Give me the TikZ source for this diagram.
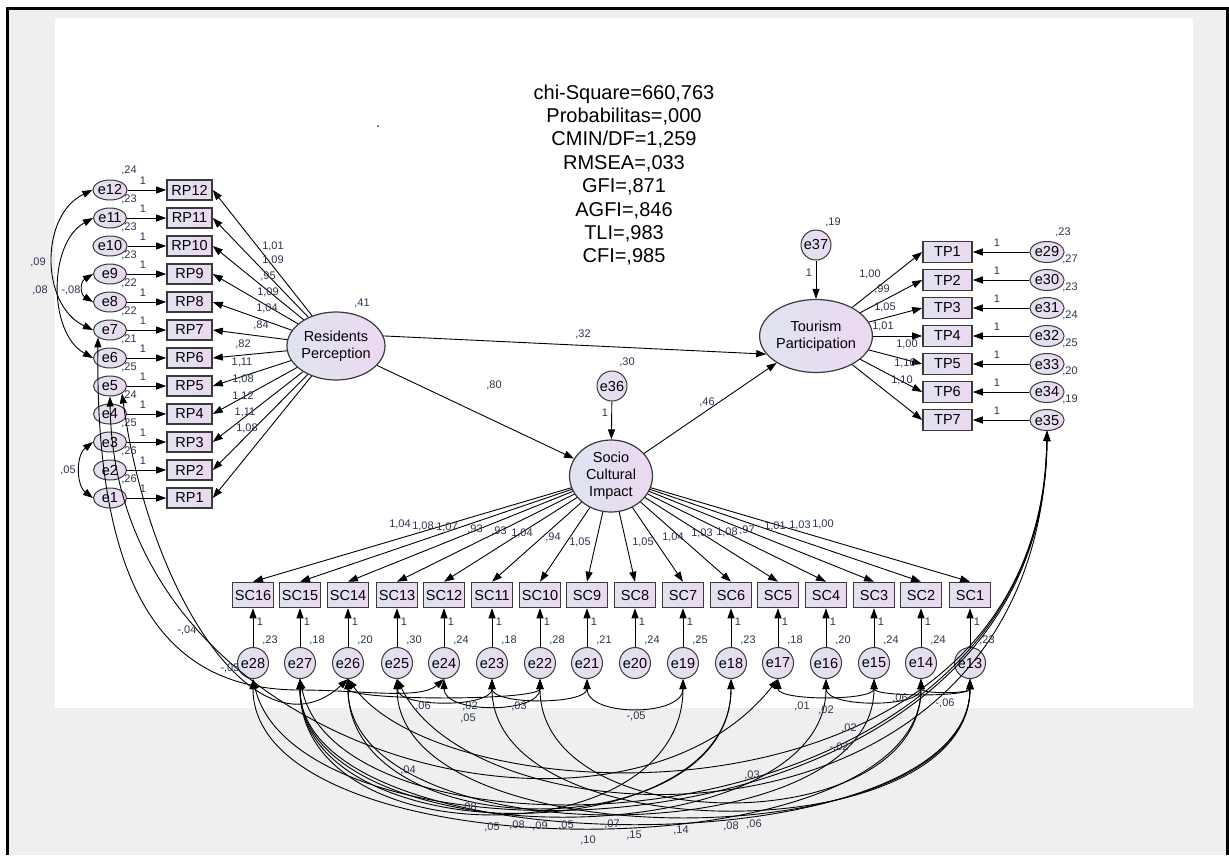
\documentclass[tikz,border=0pt]{standalone}
\usepackage{fontspec}
\setmainfont{Liberation Sans}
\usetikzlibrary{arrows.meta, shapes.geometric}
\definecolor{bgcol}{HTML}{EFEFEF}
\definecolor{lcol}{HTML}{3A3A3A}
\definecolor{fcolA}{HTML}{DFE4EF}
\definecolor{fcolB}{HTML}{ECD8F2}
\definecolor{ncol}{HTML}{2A3550}
\definecolor{dotcol}{HTML}{2020C0}

\tikzset{
  obsbox/.style={draw=lcol, line width=1.6pt, left color=fcolA, right color=fcolB, minimum width=45pt, minimum height=20pt, inner sep=0pt, font=\fontsize{14.5}{15}\selectfont},
  scbox/.style={obsbox, minimum width=41pt, minimum height=25pt},
  tpbox/.style={obsbox, minimum width=49pt, minimum height=21pt},
  errell/.style={ellipse, draw=lcol, line width=1pt, left color=fcolA, right color=fcolB, minimum width=33pt, minimum height=20pt, inner sep=0pt, font=\fontsize{14.5}{15}\selectfont},
  errcirc/.style={circle, draw=lcol, line width=1pt, left color=fcolA, right color=fcolB, minimum size=31pt, inner sep=0pt, font=\fontsize{14.5}{15}\selectfont},
  latent/.style={ellipse, draw=lcol, line width=1.2pt, left color=fcolA, right color=fcolB, inner sep=0pt, align=center, font=\fontsize{14.5}{17}\selectfont},
  num/.style={text=ncol, inner sep=0pt, font=\fontsize{11}{11}\selectfont},
  load/.style={->, line width=0.9pt},
  cov/.style={<->, line width=0.9pt},
}

\begin{document}
\begin{tikzpicture}[x=1pt, y=-1pt, >={Triangle[length=10pt,width=7pt]}]
\useasboundingbox (0,0) rectangle (1229,855);
% page
\fill[bgcol] (7,8) rectangle (1227,855);
\fill[white] (55,18) rectangle (1193,708);
\draw[line width=3pt] (7,855) -- (7,8) -- (1227,8) -- (1227,855);
\fill[dotcol] (378,126) circle (1pt);

% fit indices
\node[align=center, font=\fontsize{20}{23.4}\selectfont] (fit) at (624,175) {chi-Square=660,763\\Probabilitas=,000\\CMIN/DF=1,259\\RMSEA=,033\\GFI=,871\\AGFI=,846\\TLI=,983\\CFI=,985};

% latent variables
\node[latent, minimum width=87pt, minimum height=68pt] (resp) at (336,346) {Residents\\Perception};
\node[latent, minimum width=83pt, minimum height=72pt] (sci) at (611,476) {Socio\\Cultural\\Impact};
\node[latent, minimum width=98pt, minimum height=73pt] (tpart) at (816,336) {Tourism\\Participation};
\node[errcirc, minimum size=30pt] (e36) at (612,386) {e36};
\node[errcirc, minimum size=30pt] (e37) at (816,245) {e37};

% residents perception indicators
\node[obsbox] (rp12) at (189.5,190) {RP12};
\node[obsbox] (rp11) at (189.5,218) {RP11};
\node[obsbox] (rp10) at (189.5,246) {RP10};
\node[obsbox] (rp9) at (189.5,274) {RP9};
\node[obsbox] (rp8) at (189.5,302) {RP8};
\node[obsbox] (rp7) at (189.5,330) {RP7};
\node[obsbox] (rp6) at (189.5,358) {RP6};
\node[obsbox] (rp5) at (189.5,386) {RP5};
\node[obsbox] (rp4) at (189.5,414) {RP4};
\node[obsbox] (rp3) at (189.5,442) {RP3};
\node[obsbox] (rp2) at (189.5,470) {RP2};
\node[obsbox] (rp1) at (189.5,498) {RP1};
\node[errell] (e12) at (110,190) {e12};
\node[errell] (e11) at (110,218) {e11};
\node[errell] (e10) at (110,246) {e10};
\node[errell] (e9) at (110,274) {e9};
\node[errell] (e8) at (110,302) {e8};
\node[errell] (e7) at (110,330) {e7};
\node[errell] (e6) at (110,358) {e6};
\node[errell] (e5) at (110,386) {e5};
\node[errell] (e4) at (110,414) {e4};
\node[errell] (e3) at (110,442) {e3};
\node[errell] (e2) at (110,470) {e2};
\node[errell] (e1) at (110,498) {e1};

% tourism participation indicators
\node[tpbox] (tp1) at (947.5,252) {TP1};
\node[tpbox] (tp2) at (947.5,280) {TP2};
\node[tpbox] (tp3) at (947.5,308) {TP3};
\node[tpbox] (tp4) at (947.5,336) {TP4};
\node[tpbox] (tp5) at (947.5,364) {TP5};
\node[tpbox] (tp6) at (947.5,392) {TP6};
\node[tpbox] (tp7) at (947.5,420) {TP7};
\node[errell, minimum width=34pt, minimum height=21pt] (e29) at (1047,252) {e29};
\node[errell, minimum width=34pt, minimum height=21pt] (e30) at (1047,280) {e30};
\node[errell, minimum width=34pt, minimum height=21pt] (e31) at (1047,308) {e31};
\node[errell, minimum width=34pt, minimum height=21pt] (e32) at (1047,336) {e32};
\node[errell, minimum width=34pt, minimum height=21pt] (e33) at (1047,364) {e33};
\node[errell, minimum width=34pt, minimum height=21pt] (e34) at (1047,392) {e34};
\node[errell, minimum width=34pt, minimum height=21pt] (e35) at (1047,420) {e35};

% socio cultural impact indicators
\node[scbox] (sc16) at (253,595) {SC16};
\node[scbox] (sc15) at (300,595) {SC15};
\node[scbox] (sc14) at (348,595) {SC14};
\node[scbox] (sc13) at (397,595) {SC13};
\node[scbox] (sc12) at (444,595) {SC12};
\node[scbox] (sc11) at (492,595) {SC11};
\node[scbox] (sc10) at (540,595) {SC10};
\node[scbox] (sc9) at (587,595) {SC9};
\node[scbox] (sc8) at (635,595) {SC8};
\node[scbox] (sc7) at (683,595) {SC7};
\node[scbox] (sc6) at (731,595) {SC6};
\node[scbox] (sc5) at (778,595) {SC5};
\node[scbox] (sc4) at (826,595) {SC4};
\node[scbox] (sc3) at (874,595) {SC3};
\node[scbox] (sc2) at (921,595) {SC2};
\node[scbox] (sc1) at (970,595) {SC1};
\node[errcirc] (e28) at (253,663) {e28};
\node[errcirc] (e27) at (300,663) {e27};
\node[errcirc] (e26) at (348,663) {e26};
\node[errcirc] (e25) at (397,663) {e25};
\node[errcirc] (e24) at (444,663) {e24};
\node[errcirc] (e23) at (492,663) {e23};
\node[errcirc] (e22) at (540,663) {e22};
\node[errcirc] (e21) at (587,663) {e21};
\node[errcirc] (e20) at (635,663) {e20};
\node[errcirc] (e19) at (683,663) {e19};
\node[errcirc] (e18) at (731,663) {e18};
\node[errcirc] (e17) at (778,663) {e17};
\node[errcirc] (e16) at (826,663) {e16};
\node[errcirc] (e15) at (874,663) {e15};
\node[errcirc] (e14) at (921,663) {e14};
\node[errcirc] (e13) at (970,663) {e13};

% structural paths
\draw[load] (resp.12) -- (tpart.200);
\draw[load] (resp) -- (sci);
\draw[load] (sci) -- (tpart);
\draw[load] (e36) -- (sci);
\draw[load] (e37) -- (tpart);

% loadings RP
\draw[load] (resp) -- (rp12.east);
\draw[load] (resp) -- (rp11.east);
\draw[load] (resp) -- (rp10.east);
\draw[load] (resp) -- (rp9.east);
\draw[load] (resp) -- (rp8.east);
\draw[load] (resp) -- (rp7.east);
\draw[load] (resp) -- (rp6.east);
\draw[load] (resp) -- (rp5.east);
\draw[load] (resp) -- (rp4.east);
\draw[load] (resp) -- (rp3.east);
\draw[load] (resp) -- (rp2.east);
\draw[load] (resp) -- (rp1.east);
\draw[load] (e12) -- (rp12);
\draw[load] (e11) -- (rp11);
\draw[load] (e10) -- (rp10);
\draw[load] (e9) -- (rp9);
\draw[load] (e8) -- (rp8);
\draw[load] (e7) -- (rp7);
\draw[load] (e6) -- (rp6);
\draw[load] (e5) -- (rp5);
\draw[load] (e4) -- (rp4);
\draw[load] (e3) -- (rp3);
\draw[load] (e2) -- (rp2);
\draw[load] (e1) -- (rp1);

% loadings TP
\draw[load] (tpart) -- (tp1.west);
\draw[load] (tpart) -- (tp2.west);
\draw[load] (tpart) -- (tp3.west);
\draw[load] (tpart) -- (tp4.west);
\draw[load] (tpart) -- (tp5.west);
\draw[load] (tpart) -- (tp6.west);
\draw[load] (tpart) -- (tp7.west);
\draw[load] (e29) -- (tp1);
\draw[load] (e30) -- (tp2);
\draw[load] (e31) -- (tp3);
\draw[load] (e32) -- (tp4);
\draw[load] (e33) -- (tp5);
\draw[load] (e34) -- (tp6);
\draw[load] (e35) -- (tp7);

% loadings SC
\draw[load] (sci) -- (sc16.north);
\draw[load] (sci) -- (sc15.north);
\draw[load] (sci) -- (sc14.north);
\draw[load] (sci) -- (sc13.north);
\draw[load] (sci) -- (sc12.north);
\draw[load] (sci) -- (sc11.north);
\draw[load] (sci) -- (sc10.north);
\draw[load] (sci) -- (sc9.north);
\draw[load] (sci) -- (sc8.north);
\draw[load] (sci) -- (sc7.north);
\draw[load] (sci) -- (sc6.north);
\draw[load] (sci) -- (sc5.north);
\draw[load] (sci) -- (sc4.north);
\draw[load] (sci) -- (sc3.north);
\draw[load] (sci) -- (sc2.north);
\draw[load] (sci) -- (sc1.north);
\draw[load] (e28) -- (sc16);
\draw[load] (e27) -- (sc15);
\draw[load] (e26) -- (sc14);
\draw[load] (e25) -- (sc13);
\draw[load] (e24) -- (sc12);
\draw[load] (e23) -- (sc11);
\draw[load] (e22) -- (sc10);
\draw[load] (e21) -- (sc9);
\draw[load] (e20) -- (sc8);
\draw[load] (e19) -- (sc7);
\draw[load] (e18) -- (sc6);
\draw[load] (e17) -- (sc5);
\draw[load] (e16) -- (sc4);
\draw[load] (e15) -- (sc3);
\draw[load] (e14) -- (sc2);
\draw[load] (e13) -- (sc1);

% covariances, left
\draw[cov] (e12.west) .. controls (40,215) and (40,305) .. (e7.west);
\draw[cov] (e11.west) .. controls (48,243) and (48,333) .. (e6.west);
\draw[cov] (e9.west) .. controls (80,282) and (80,294) .. (e8.west);
\draw[cov] (e3.west) .. controls (76,455) and (76,485) .. (e1.west);
\draw[cov] (e7.south west) .. controls (95,600) and (170,690) .. (300,690) .. controls (360,690) and (420,700) .. (e24.south);
\draw[cov] (e5.south east) .. controls (150,600) and (260,760) .. (e26.south);
\draw[cov] (e5.south) .. controls (115,760) and (620,880) .. (e17.south);

% covariances, e35
\draw[cov] (e35.south) .. controls (1040,840) and (450,820) .. (e26.south);
\draw[cov] (e35.south) .. controls (1040,870) and (480,850) .. (e25.south);
\draw[cov] (e35.south) .. controls (1045,880) and (300,880) .. (e28.south);
\draw[cov] (e35.south) .. controls (1045,860) and (340,880) .. (e27.south);

% covariances, short arcs
\draw[cov] (e25.south) .. controls +(0,29) and +(0,29) .. (e23.south);
\draw[cov] (e26.south) .. controls +(0,22) and +(0,22) .. (e22.south);
\draw[cov] (e24.south) .. controls +(0,35) and +(0,35) .. (e22.south);
\draw[cov] (e23.south) .. controls +(0,26) and +(0,26) .. (e21.south);
\draw[cov] (e21.south) .. controls +(0,38) and +(0,38) .. (e19.south);
\draw[cov] (e17.south) .. controls +(0,22) and +(0,22) .. (e15.south);
\draw[cov] (e16.south) .. controls +(0,29) and +(0,29) .. (e14.south);
\draw[cov] (e15.south) .. controls +(0,18) and +(0,18) .. (e13.south);
\draw[cov] (e14.south) .. controls +(0,15) and +(0,15) .. (e13.south);

% covariances, bowl
\draw[cov] (e27.south) .. controls +(0,178) and +(0,178) .. (e19.south);
\draw[cov] (e27.south) .. controls +(0,176) and +(0,176) .. (e18.south);
\draw[cov] (e26.south) .. controls +(0,170) and +(0,170) .. (e18.south);
\draw[cov] (e27.south) .. controls +(0,181) and +(0,181) .. (e16.south);
\draw[cov] (e28.south) .. controls +(0,197) and +(0,197) .. (e14.south);
\draw[cov] (e26.south) .. controls +(0,178) and +(0,178) .. (e15.south);
\draw[cov] (e27.south) .. controls +(0,191) and +(0,191) .. (e13.south);
\draw[cov] (e25.south) .. controls +(0,182) and +(0,182) .. (e13.south);
\draw[cov] (e23.south) .. controls +(0,173) and +(0,173) .. (e13.south);
\draw[cov] (e22.south) .. controls +(0,162) and +(0,162) .. (e14.south);

% estimates, structural
\node[num] (vresp) at (362,303) {,41};
\node[num] (p32) at (583,334) {,32};
\node[num] (p80) at (494,385) {,80};
\node[num] (p46) at (707,402) {,46};
\node[num] (ve36) at (627,362) {,30};
\node[num] (oe36) at (605,413) {1};
\node[num] (ve37) at (833,222) {,19};
\node[num] (oe37) at (809,273) {1};

% estimates, RP
\node[num] (ve12) at (129,170) {,24};
\node[num] (ve11) at (129,199) {,23};
\node[num] (ve10) at (129,227) {,23};
\node[num] (ve9) at (129,255) {,23};
\node[num] (ve8) at (129,283) {,22};
\node[num] (ve7) at (129,311) {,22};
\node[num] (ve6) at (129,339) {,21};
\node[num] (ve5) at (129,367) {,25};
\node[num] (ve4) at (129,395) {,24};
\node[num] (ve3) at (129,423) {,25};
\node[num] (ve2) at (129,451) {,26};
\node[num] (ve1) at (129,479) {,26};
\node[num] (oe12) at (143,181) {1};
\node[num] (oe11) at (143,209) {1};
\node[num] (oe10) at (143,237) {1};
\node[num] (oe9) at (143,265) {1};
\node[num] (oe8) at (143,293) {1};
\node[num] (oe7) at (143,321) {1};
\node[num] (oe6) at (143,349) {1};
\node[num] (oe5) at (143,377) {1};
\node[num] (oe4) at (143,405) {1};
\node[num] (oe3) at (143,433) {1};
\node[num] (oe2) at (143,461) {1};
\node[num] (oe1) at (143,489) {1};
\node[num] (ld12) at (273,246) {1,01};
\node[num] (ld11) at (273,260) {1,09};
\node[num] (ld10) at (268,276) {,95};
\node[num] (ld9) at (268,292) {1,09};
\node[num] (ld8) at (267,308) {1,04};
\node[num] (ld7) at (261,325) {,84};
\node[num] (ld6) at (243,344) {,82};
\node[num] (ld5) at (242,362) {1,11};
\node[num] (ld4) at (243,379) {1,08};
\node[num] (ld3) at (243,396) {1,12};
\node[num] (ld2) at (245,412) {1,11};
\node[num] (ld1) at (247,428) {1,08};

% estimates, TP
\node[num] (ve29) at (1063,232) {,23};
\node[num] (ve30) at (1070,259) {,27};
\node[num] (ve31) at (1070,287) {,23};
\node[num] (ve32) at (1070,315) {,24};
\node[num] (ve33) at (1070,343) {,25};
\node[num] (ve34) at (1070,371) {,20};
\node[num] (ve35) at (1070,399) {,19};
\node[num] (oe29) at (997,243) {1};
\node[num] (oe30) at (997,271) {1};
\node[num] (oe31) at (997,299) {1};
\node[num] (oe32) at (997,327) {1};
\node[num] (oe33) at (997,355) {1};
\node[num] (oe34) at (997,383) {1};
\node[num] (oe35) at (997,411) {1};
\node[num] (lt1) at (870,274) {1,00};
\node[num] (lt2) at (882,289) {,99};
\node[num] (lt3) at (885,307) {1,05};
\node[num] (lt4) at (883,326) {1,01};
\node[num] (lt5) at (907,344) {1,00};
\node[num] (lt6) at (905,363) {1,10};
\node[num] (lt7) at (902,380) {1,10};

% estimates, SC
\node[num] (ls16) at (400,524) {1,04};
\node[num] (ls15) at (423,526) {1,08};
\node[num] (ls14) at (447,527) {1,07};
\node[num] (ls13) at (475,529) {,93};
\node[num] (ls12) at (499,531) {,93};
\node[num] (ls11) at (522,533) {1,04};
\node[num] (ls10) at (553,537) {,94};
\node[num] (ls9) at (580,542) {1,05};
\node[num] (ls8) at (643,542) {1,05};
\node[num] (ls7) at (673,537) {1,04};
\node[num] (ls6) at (702,533) {1,03};
\node[num] (ls5) at (727,532) {1,08};
\node[num] (ls4) at (747,530) {,97};
\node[num] (ls3) at (775,526) {1,01};
\node[num] (ls2) at (800,525) {1,03};
\node[num] (ls1) at (823,524) {1,00};
\node[num] (ve28) at (270,640) {,23};
\node[num] (ve27) at (317,640) {,18};
\node[num] (ve26) at (365,640) {,20};
\node[num] (ve25) at (414,640) {,30};
\node[num] (ve24) at (461,640) {,24};
\node[num] (ve23) at (509,640) {,18};
\node[num] (ve22) at (557,640) {,28};
\node[num] (ve21) at (604,640) {,21};
\node[num] (ve20) at (652,640) {,24};
\node[num] (ve19) at (700,640) {,25};
\node[num] (ve18) at (748,640) {,23};
\node[num] (ve17) at (795,640) {,18};
\node[num] (ve16) at (843,640) {,20};
\node[num] (ve15) at (891,640) {,24};
\node[num] (ve14) at (938,640) {,24};
\node[num] (ve13) at (987,640) {,23};
\node[num] (oe28) at (260,622) {1};
\node[num] (oe27) at (307,622) {1};
\node[num] (oe26) at (355,622) {1};
\node[num] (oe25) at (404,622) {1};
\node[num] (oe24) at (451,622) {1};
\node[num] (oe23) at (499,622) {1};
\node[num] (oe22) at (547,622) {1};
\node[num] (oe21) at (594,622) {1};
\node[num] (oe20) at (642,622) {1};
\node[num] (oe19) at (690,622) {1};
\node[num] (oe18) at (738,622) {1};
\node[num] (oe17) at (785,622) {1};
\node[num] (oe16) at (833,622) {1};
\node[num] (oe15) at (881,622) {1};
\node[num] (oe14) at (928,622) {1};
\node[num] (oe13) at (977,622) {1};

% estimates, covariances
\node[num] (c1) at (38,262) {,09};
\node[num] (c2) at (40,290) {,08};
\node[num] (c3) at (71,290) {-,08};
\node[num] (c4) at (68,470) {,05};
\node[num] (c5) at (230,668) {-,05};
\node[num] (c6) at (187,630) {-,04};
\node[num] (c7) at (408,770) {,04};
\node[num] (c8) at (849,728) {,02};
\node[num] (c9) at (839,747) {-,02};
\node[num] (c10) at (752,775) {,03};
\node[num] (c11) at (469,807) {,08};
\node[num] (c12) at (423,706) {,06};
\node[num] (c13) at (470,706) {,02};
\node[num] (c14) at (468,718) {,05};
\node[num] (c15) at (519,706) {,03};
\node[num] (c16) at (636,716) {-,05};
\node[num] (c17) at (802,706) {,01};
\node[num] (c18) at (826,710) {,02};
\node[num] (c19) at (900,698) {,06};
\node[num] (c20) at (945,703) {-,06};
\node[num] (c21) at (492,827) {,05};
\node[num] (c22) at (517,825) {,08};
\node[num] (c23) at (540,826) {,09};
\node[num] (c24) at (566,825) {,05};
\node[num] (c25) at (588,840) {,10};
\node[num] (c26) at (612,824) {,07};
\node[num] (c27) at (634,835) {,15};
\node[num] (c28) at (681,830) {,14};
\node[num] (c29) at (731,826) {,08};
\node[num] (c30) at (754,824) {,06};
\end{tikzpicture}
\end{document}
